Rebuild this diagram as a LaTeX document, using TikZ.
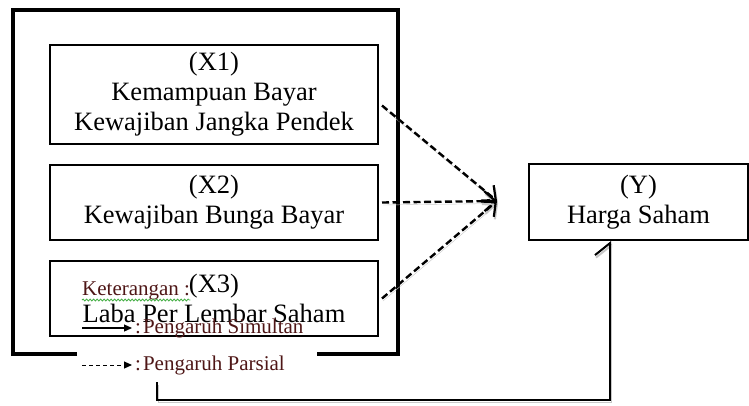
\documentclass[tikz,border=0pt]{standalone}
\usepackage{fontspec}
\setmainfont{Liberation Serif}
\usetikzlibrary{arrows.meta,calc,decorations.pathmorphing}
\definecolor{legendred}{RGB}{78,22,22}
\definecolor{squiggle}{RGB}{70,175,70}
\begin{document}
\begin{tikzpicture}[x=1pt,y=-1pt,
  varbox/.style={draw, line width=2pt, inner sep=0pt, align=center,
    font=\fontsize{26.5}{30}\selectfont},
  legend/.style={inner sep=0pt, text=legendred, font=\fontsize{21}{22}\selectfont},
  lineshade/.style={preaction={draw=black!22, transform canvas={shift={(1pt,-2.5pt)}}}},
  partial/.style={line width=2.4pt, dash pattern=on 7pt off 3.5pt, lineshade,
    -{Straight Barb[length=11pt,width=20pt,line width=2.2pt]}},
  simul/.style={line width=1.8pt, lineshade,
    -{Straight Barb[left,length=12pt,width=30pt,line width=2pt]}},
  keysolid/.style={line width=1.2pt, -{Triangle[length=8pt,width=7pt]}},
  keydash/.style={line width=1pt, dash pattern=on 4pt off 3pt, -{Triangle[length=8pt,width=7pt]}}]
\useasboundingbox (0,0) rectangle (749,405);

% independent variables
\node (x1) [varbox, minimum width=328pt, minimum height=99pt] at (214,94.5)
  {(X1)\\Kemampuan Bayar\\Kewajiban Jangka Pendek};
\node (x2) [varbox, minimum width=328pt, minimum height=75pt] at (214,202.5)
  {(X2)\\Kewajiban Bunga Bayar};
\node (x3) [varbox, minimum width=328pt, minimum height=75pt] at (214,298.5)
  {(X3)\\Laba Per Lembar Saham};

% dependent variable
\node (y) [varbox, minimum width=219pt, minimum height=76pt] at (638.5,202)
  {(Y)\\Harga Saham};

% thick frame around the X group, open at the bottom for the legend
\draw[line width=4.5pt, line join=miter] (77,354) -| (13,10) -| (398,354) -- (317,354);

% partial effects
\coordinate (hub) at (497,201);
\draw[partial] ($(x1.east)+(3,11)$) -- (hub);
\draw[partial] ($(x2.east)+(3,0)$) -- (hub);
\draw[partial] ($(x3.east)+(3,0)$) -- (hub);

% legend
\node (ket) [legend, anchor=base west] at (82,295) {Keterangan :};
\draw[squiggle, line width=0.8pt, decorate,
  decoration={snake, amplitude=1pt, segment length=3.5pt}]
  ($(ket.base west)+(0,5)$) -- ($(ket.base east)+(0,5)$);
\coordinate (keyA) at (82,328);
\node (simtext) [legend, anchor=base west] at (135,333) {:\hspace{2pt}Pengaruh Simultan};
\draw[keysolid] (keyA) -- ($(keyA -| simtext.west)+(-3,0)$);
\coordinate (keyB) at (82,365);
\node (partext) [legend, anchor=base west] at (135,370) {:\hspace{2pt}Pengaruh Parsial};
\draw[keydash] (keyB) -- ($(keyB -| partext.west)+(-3,0)$);

% simultaneous effect
\coordinate (simstart) at (157,382);
\coordinate (bend) at (610,400);
\draw[simul] (simstart) |- (bend) -- (bend |- y.south);
\end{tikzpicture}
\end{document}
